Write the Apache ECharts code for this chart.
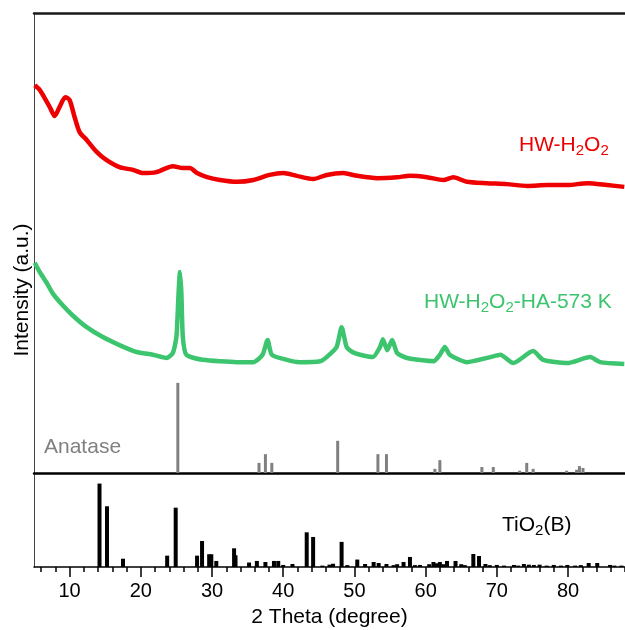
<!DOCTYPE html>
<html style="height: 100%">
<head>
    <meta charset="utf-8">
    <script type="text/javascript" src="https://cdn.jsdelivr.net/npm/echarts@6/dist/echarts.min.js"></script>
</head>
<body style="height: 100%; margin: 0">
<div id="container" style="width: 625px; height: 630px"></div>
<script type="text/javascript">
    // 2 Theta (deg), intensity (a.u., arbitrary scale 0-100 of top panel)
    var hwH2O2 = [
        [5.1, 84.3], [5.8, 83.3], [6.5, 81.5], [7.2, 79.6], [7.9, 77.6], [8.6, 79.6],
        [9.4, 81.7], [10.0, 81.1], [10.7, 77.4], [11.4, 74.1], [12.4, 72.4], [13.8, 69.8],
        [15.2, 68.0], [17.0, 66.5], [18.9, 65.9], [20.3, 65.2], [22.2, 65.4], [23.6, 66.3],
        [24.5, 66.7], [25.9, 66.3], [26.9, 66.3], [27.9, 65.2], [29.3, 64.3], [31.1, 63.7],
        [33.5, 63.3], [35.8, 63.7], [38.1, 64.8], [40.0, 65.2], [41.9, 64.6], [44.2, 63.9],
        [46.1, 64.8], [48.4, 65.2], [50.4, 64.6], [53.2, 64.1], [56.0, 64.3], [57.8, 64.6],
        [60.2, 64.3], [62.5, 63.7], [63.9, 64.3], [65.8, 63.3], [68.6, 63.0], [71.4, 62.8],
        [74.3, 62.4], [77.1, 62.6], [79.9, 62.6], [82.7, 63.0], [85.5, 62.6], [87.9, 62.2]
    ];
    var hwH2O2HA = [
        [5.1, 45.7], [5.8, 43.7], [6.8, 41.3], [7.6, 39.1], [9.0, 36.5], [10.4, 34.3],
        [12.4, 31.7], [14.6, 29.6], [17.0, 27.8], [19.4, 26.3], [21.7, 25.7], [23.6, 25.0],
        [24.5, 26.1], [25.0, 29.6], [25.3, 39.0], [25.5, 43.7], [25.7, 39.0], [25.9, 29.6],
        [26.4, 25.7], [28.7, 24.6], [33.5, 24.1], [35.8, 24.1], [37.1, 25.7], [37.8, 28.9],
        [38.4, 25.7], [40.5, 24.6], [42.3, 24.1], [45.2, 24.3], [46.1, 25.2], [47.5, 27.4],
        [48.2, 31.7], [48.9, 27.4], [49.7, 26.3], [50.8, 25.7], [52.6, 25.2], [53.6, 27.4],
        [54.0, 29.1], [54.6, 26.7], [55.3, 28.9], [56.0, 26.1], [57.4, 25.0], [61.1, 24.3],
        [62.0, 25.7], [62.7, 27.4], [63.4, 25.7], [65.8, 24.1], [69.1, 25.2], [70.5, 25.7],
        [72.3, 23.9], [75.1, 26.5], [76.5, 24.6], [79.9, 23.9], [83.1, 25.2], [84.5, 24.1],
        [87.9, 23.7]
    ];
    var anatase = [
        [25.2, 19.6], [36.6, 2.2], [37.5, 4.1], [38.4, 2.2], [47.65, 7.0], [53.3, 4.1],
        [54.5, 4.1], [61.3, 0.9], [62.0, 2.8], [67.9, 1.3], [69.5, 1.3], [73.2, 0.5],
        [74.2, 2.2], [75.1, 0.9], [79.8, 0.5], [81.2, 0.7], [81.6, 1.5], [82.1, 1.1]
    ];
    // bottom panel, relative intensity 0-100
    var tio2B = [
        [14.2, 89.7], [15.25, 65.3], [17.5, 8.9], [23.7, 12.2], [24.9, 63.8], [27.9, 12.2],
        [28.6, 28.0], [29.6, 13.7], [29.9, 13.7], [30.6, 6.5], [33.1, 20.1], [33.3, 12.6],
        [35.2, 4.8], [36.3, 6.5], [37.5, 5.4], [38.7, 6.5], [39.3, 6.5], [40.0, 2.2],
        [41.3, 3.2], [43.3, 37.3], [44.2, 32.3], [45.5, 1.5], [46.5, 2.5], [47.0, 3.5],
        [48.2, 27.0], [49.0, 2.0], [50.4, 8.0], [51.5, 3.2], [52.7, 5.4], [53.4, 4.3],
        [54.5, 3.2], [55.5, 2.0], [56.0, 3.0], [56.9, 5.4], [57.8, 10.8], [58.5, 2.0],
        [59.2, 2.2], [60.5, 3.0], [61.1, 5.4], [61.5, 4.0], [62.0, 5.4], [62.5, 3.0],
        [63.0, 6.5], [64.2, 6.5], [65.0, 3.0], [65.5, 2.0], [66.7, 14.0], [67.5, 11.8],
        [68.4, 3.2], [69.0, 2.0], [70.0, 2.2], [71.0, 1.5], [72.4, 2.2], [73.0, 1.5],
        [73.8, 3.2], [74.5, 2.5], [75.2, 2.2], [76.0, 2.5], [77.0, 1.5], [78.0, 2.2],
        [79.0, 1.5], [79.9, 2.2], [81.0, 1.5], [81.8, 2.0], [82.9, 4.3], [84.1, 4.3],
        [85.9, 2.2], [86.5, 1.5], [87.5, 1.5]
    ];
    var majorTicks = [10, 20, 30, 40, 50, 60, 70, 80];
    var minorTicks = [];
    for (var t = 6; t <= 88; t += 2) {
        if (t % 10 !== 0) minorTicks.push(t);
    }

    var font = 'Liberation Sans';
    var sub = function (color) {
        return {fontSize: 15, fontFamily: font, fill: color, padding: [11, 0, 0, 0]};
    };
    var main = function (color) {
        return {fontSize: 21, fontFamily: font, fill: color};
    };

    var dom = document.getElementById('container');
    var myChart = echarts.init(dom, null, {renderer: 'canvas'});
    var option = {
        animation: false,
        backgroundColor: '#fff',
        grid: [
            {left: 34, top: 13, right: 0, height: 460},
            {left: 34, top: 474, right: 0, height: 93}
        ],
        xAxis: [
            {
                gridIndex: 0, type: 'value', min: 5, max: 88, position: 'bottom',
                axisLine: {show: true, lineStyle: {color: '#000', width: 2.5}},
                axisTick: {show: false}, axisLabel: {show: false}, splitLine: {show: false}
            },
            {
                gridIndex: 0, type: 'value', min: 5, max: 88, position: 'top',
                axisLine: {show: true, lineStyle: {color: '#1a1a1a', width: 2.5}},
                axisTick: {show: false}, axisLabel: {show: false}, splitLine: {show: false}
            },
            {
                gridIndex: 1, type: 'value', min: 5, max: 88, position: 'bottom',
                axisLine: {show: true, lineStyle: {color: '#000', width: 1.5}},
                axisTick: {show: true, length: 10, customValues: majorTicks, lineStyle: {color: '#000', width: 1.5}},
                axisLabel: {show: true, customValues: majorTicks, margin: 14, fontSize: 20, fontFamily: font, color: '#000'},
                splitLine: {show: false},
                name: '2 Theta (degree)', nameLocation: 'middle', nameGap: 40,
                nameTextStyle: {fontSize: 21, fontFamily: font, color: '#000'}
            },
            {
                gridIndex: 1, type: 'value', min: 5, max: 88, position: 'bottom',
                axisLine: {show: false},
                axisTick: {show: true, length: 5, customValues: minorTicks, lineStyle: {color: '#000', width: 1.5}},
                axisLabel: {show: false}, splitLine: {show: false}
            }
        ],
        yAxis: [
            {
                gridIndex: 0, type: 'value', min: 0, max: 100,
                axisLine: {show: true, lineStyle: {color: '#444', width: 1}},
                axisTick: {show: false}, axisLabel: {show: false}, splitLine: {show: false}
            },
            {
                gridIndex: 1, type: 'value', min: 0, max: 100,
                axisLine: {show: true, lineStyle: {color: '#444', width: 1}},
                axisTick: {show: false}, axisLabel: {show: false}, splitLine: {show: false}
            }
        ],
        series: [
            {
                name: 'HW-H2O2', type: 'line', xAxisIndex: 0, yAxisIndex: 0,
                data: hwH2O2, symbol: 'none', smooth: 0.25,
                lineStyle: {color: '#ee0000', width: 4.5}
            },
            {
                name: 'HW-H2O2-HA-573 K', type: 'line', xAxisIndex: 0, yAxisIndex: 0,
                data: hwH2O2HA, symbol: 'none', smooth: 0.2,
                lineStyle: {color: '#3cc46e', width: 4.5}
            },
            {
                name: 'Anatase', type: 'bar', xAxisIndex: 0, yAxisIndex: 0,
                data: anatase, barWidth: 3, itemStyle: {color: '#808080'}
            },
            {
                name: 'TiO2(B)', type: 'bar', xAxisIndex: 2, yAxisIndex: 1,
                data: tio2B, barWidth: 4, itemStyle: {color: '#000'}
            }
        ],
        graphic: [
            {
                type: 'text', x: 22, y: 290, rotation: Math.PI / 2,
                style: {text: 'Intensity (a.u.)', font: '21px ' + font, fill: '#000', align: 'center', verticalAlign: 'middle'}
            },
            {
                type: 'text', x: 519, y: 132,
                style: {
                    text: '{m|HW-H}{s|2}{m|O}{s|2}',
                    rich: {m: main('#ee0000'), s: sub('#ee0000')}
                }
            },
            {
                type: 'text', x: 424, y: 289,
                style: {
                    text: '{m|HW-H}{s|2}{m|O}{s|2}{m|-HA-573 K}',
                    rich: {m: main('#3cc46e'), s: sub('#3cc46e')}
                }
            },
            {
                type: 'text', x: 44, y: 437,
                style: {text: 'Anatase', font: '21px ' + font, fill: '#808080'}
            },
            {
                type: 'text', x: 502, y: 512,
                style: {
                    text: '{m|TiO}{s|2}{m|(B)}',
                    rich: {m: main('#000'), s: sub('#000')}
                }
            }
        ]
    };
    myChart.setOption(option);
</script>
</body>
</html>
